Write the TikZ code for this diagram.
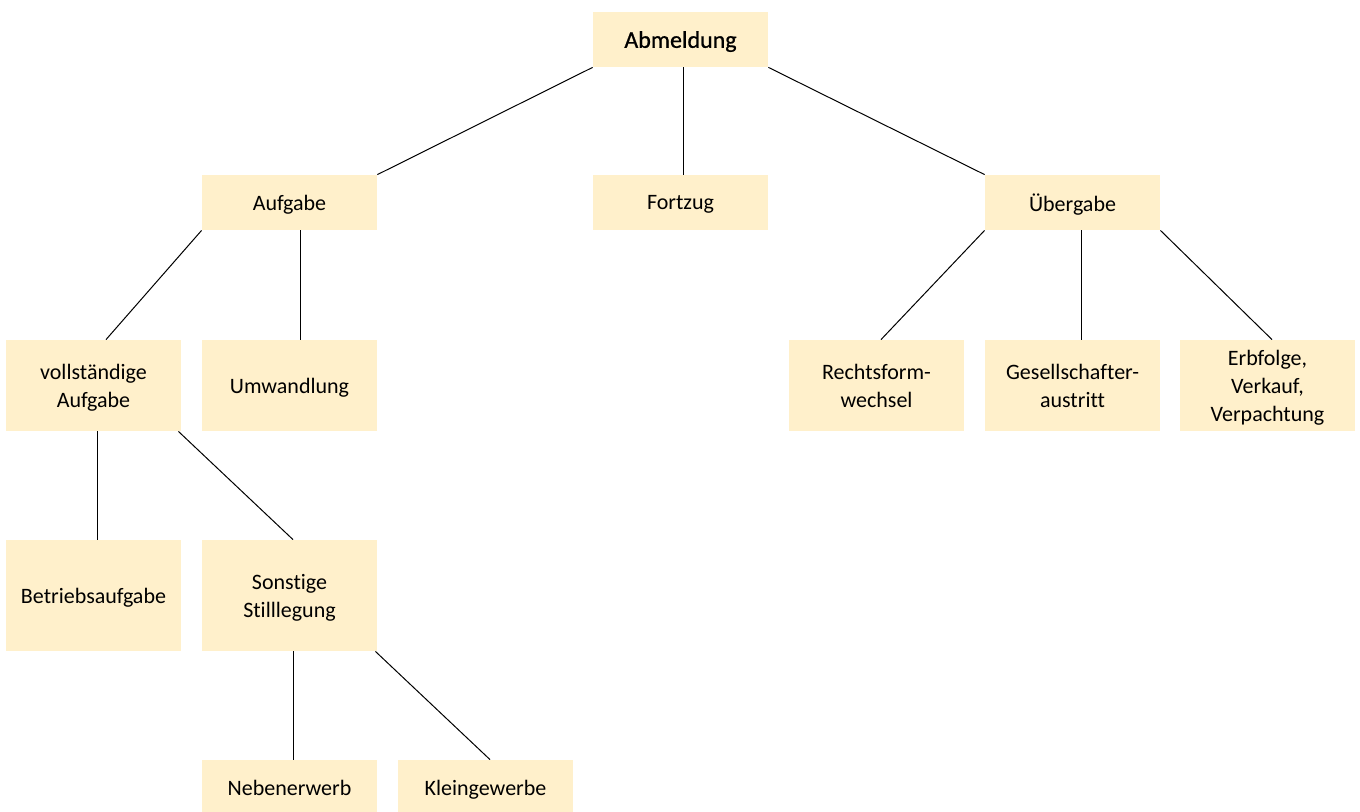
\documentclass[tikz,border=0pt]{standalone}
\usepackage{fontspec}
\setmainfont{Carlito}[Ligatures=CommonOff]
\newfontfamily\headfont{Carlito}[FakeBold=0.8,Ligatures=CommonOff]
\usepackage{tikz}
\usetikzlibrary{calc}
\definecolor{boxfill}{HTML}{FFF0CB}
\newcommand{\unitpx}{0.5pt}
\tikzset{box/.style={fill=boxfill,inner sep=0pt,minimum width=87.5pt,minimum height=#1,align=center,text depth=-1pt,font=\fontsize{11}{14}\selectfont},box/.default=27.5pt}
\tikzset{link/.style={color=#1,line width=0.5pt},link/.default=black}

\begin{document}
\begin{tikzpicture}[x=\unitpx,y=-\unitpx]
	\useasboundingbox (0,0) rectangle (1360,812);
	% top level
	\node [box] (abm) at (680.5,39.5) {\headfont\fontsize{12}{14}\selectfont Abmeldung};
	\node [box] (auf) at (289.5,202.5) {Aufgabe};
	\node [box] (fort) at (680.5,202.5) {Fortzug};
	\node [box] (ueb) at (1072.5,202.5) {Übergabe};
	% second level
	\node [box=45.5pt] (voll) at (93.5,385.5) {vollständige\\Aufgabe};
	\node [box=45.5pt] (umw) at (289.5,385.5) {Umwandlung};
	\node [box=45.5pt] (rech) at (876.5,385.5) {Rechtsform-\\wechsel};
	\node [box=45.5pt] (ges) at (1072.5,385.5) {Gesellschafter-\\austritt};
	\node [box=45.5pt] (erb) at (1267.5,385.5) {Erbfolge,\\Verkauf,\\Verpachtung};
	% third level
	\node [box=55.5pt] (betr) at (93.5,595.5) {Betriebsaufgabe};
	\node [box=55.5pt] (sons) at (289.5,595.5) {Sonstige\\Stilllegung};
	\node [box] (neb) at (289.5,787.5) {Nebenerwerb};
	\node [box] (klein) at (485.5,787.5) {Kleingewerbe};

	\draw [link] (abm.south west) -- (auf.north east);
	\draw [link] ($(abm.south)+(2.5,0)$) -- ($(fort.north)+(2.5,0)$);
	\draw [link] (abm.south east) -- (ueb.north west);
	\draw [link] (auf.south west) -- ($(voll.north)+(12.5,0)$);
	\draw [link] ($(auf.south)+(10.5,0)$) -- ($(umw.north)+(10.5,0)$);
	\draw [link] (ueb.south west) -- ($(rech.north)+(4.5,0)$);
	\draw [link] ($(ueb.south)+(8.5,0)$) -- ($(ges.north)+(8.5,0)$);
	\draw [link] (ueb.south east) -- ($(erb.north)+(4.5,0)$);
	\draw [link] ($(voll.south)+(3.5,0)$) -- ($(betr.north)+(3.5,0)$);
	\draw [link] ($(voll.south east)+(-3,0)$) -- ($(sons.north)+(3.5,0)$);
	\draw [link] ($(sons.south)+(3.5,0)$) -- ($(neb.north)+(3.5,0)$);
	\draw [link] ($(sons.south east)+(-2,0)$) -- ($(klein.north)+(4.5,0)$);
\end{tikzpicture}
\end{document}
